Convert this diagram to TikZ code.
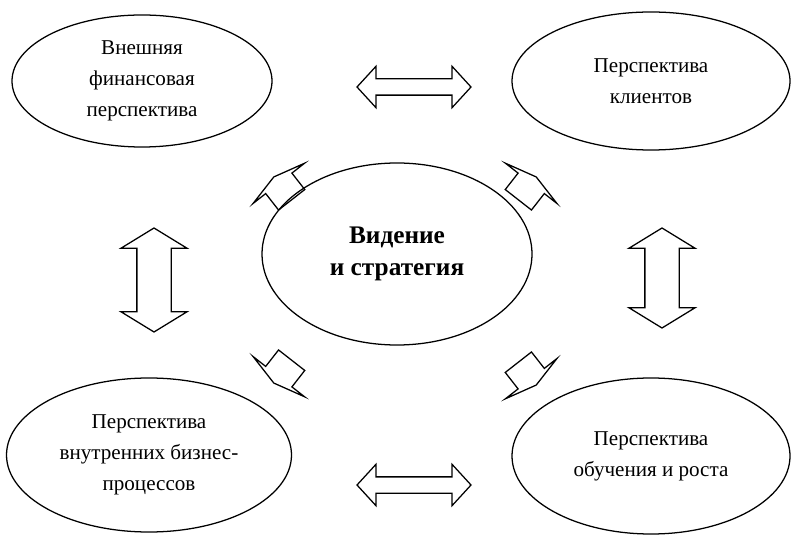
\documentclass[tikz,border=0pt]{standalone}
\usepackage{fontspec}
\setmainfont{Liberation Serif}
\usepackage{tikz}
\usetikzlibrary{shapes.geometric,shapes.arrows}

\begin{document}
\begin{tikzpicture}[
  oval/.style={ellipse, draw=black, line width=0.9pt, minimum width=#1,
    align=center, inner sep=0pt, font=\fontsize{15}{22}\selectfont},
  dblarr/.style={double arrow, draw=black, line width=0.9pt, inner xsep=0pt,
    inner ysep=#1, double arrow tip angle=95},
  sarr/.style={single arrow, draw=black, line width=0.9pt, inner xsep=0pt,
    inner ysep=0.4cm, single arrow head extend=0.4cm, single arrow tip angle=152,
    minimum height=0.725cm}
]
\useasboundingbox (0,0) rectangle (19.925,13.45);
\node[oval=6.5cm, minimum height=3.3cm] (fin) at (3.55,11.425) {Внешняя\\финансовая\\перспектива};
\node[oval=6.95cm, minimum height=3.45cm] (cli) at (16.275,11.425) {Перспектива\\клиентов};
\node[oval=6.75cm, minimum height=4.55cm, font=\fontsize{18}{23}\selectfont\bfseries] (vis) at (9.925,7.1) {Видение\\и стратегия};
\node[oval=7.125cm, minimum height=3.85cm] (proc) at (3.725,2.075) {Перспектива\\внутренних бизнес-\\процессов};
\node[oval=6.95cm, minimum height=3.9cm] (grow) at (16.275,2.05) {Перспектива\\обучения и роста};
% double arrows between the outer ovals
\node[dblarr=0.1875cm, minimum height=2.85cm, double arrow head extend=0.3125cm] (fincli) at (10.35,11.275) {};
\node[dblarr=0.1875cm, minimum height=2.85cm, double arrow head extend=0.3125cm] (procgrow) at (10.35,1.325) {};
\node[dblarr=0.4125cm, minimum height=2.6cm, double arrow head extend=0.4cm, double arrow tip angle=117, rotate=90] (finproc) at (3.85,6.45) {};
\node[dblarr=0.4125cm, minimum height=2.5cm, double arrow head extend=0.4cm, double arrow tip angle=117, rotate=90] (cligrow) at (16.55,6.5) {};
% small arrows from the centre
\node[sarr, rotate=128] (tofin) at (7.1,8.7) {};
\node[sarr, rotate=52] (tocli) at (13.15,8.7) {};
\node[sarr, rotate=232] (toproc) at (7.1,4.2) {};
\node[sarr, rotate=-52] (togrow) at (13.15,4.15) {};
\end{tikzpicture}
\end{document}
